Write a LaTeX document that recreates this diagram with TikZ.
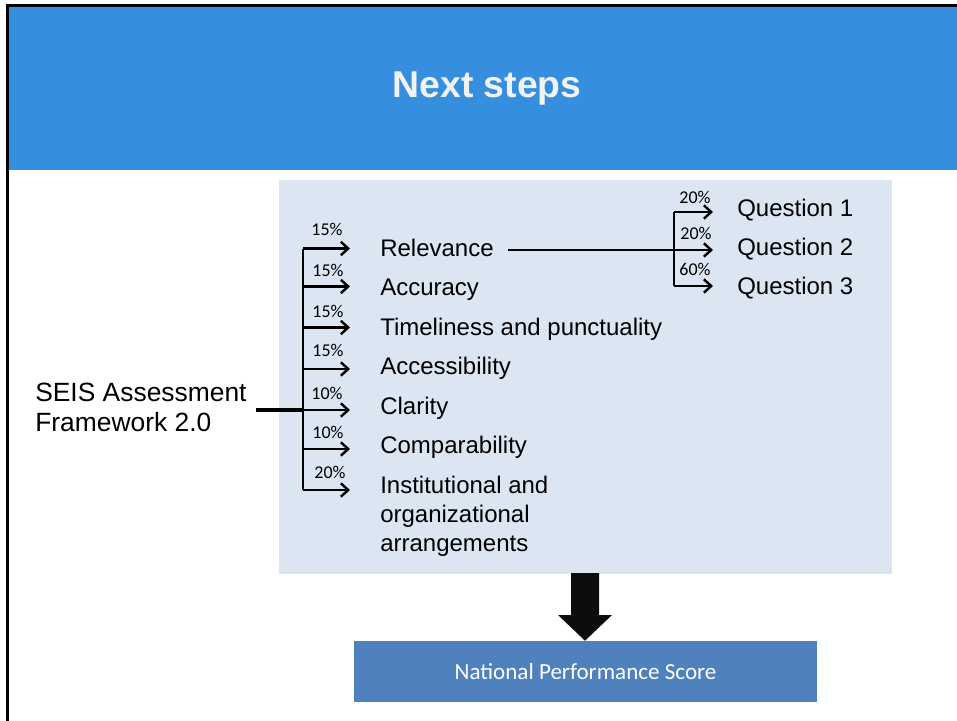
\documentclass[tikz,border=0pt]{standalone}
\usepackage{fontspec}
\setmainfont{Liberation Sans}
\newfontfamily\calib{Carlito}
\usetikzlibrary{arrows.meta}
\definecolor{bandblue}{HTML}{368EDE}
\definecolor{panel}{HTML}{DCE6F2}
\definecolor{scorebox}{HTML}{4F81BD}
\begin{document}
\begin{tikzpicture}[x=0.75pt,y=-0.75pt,
  item/.style={anchor=base west,inner sep=0pt,font=\fontsize{18}{22}\selectfont},
  pct/.style={inner sep=0pt,font=\calib\fontsize{13.5}{15}\selectfont},
  conn/.style={line width=1.9pt,-{Straight Barb[length=5.5pt,width=10pt,line width=1.8pt]}},
  spine/.style={line width=1.9pt}]
\useasboundingbox (0,0) rectangle (957,721);
\fill[white] (0,0) rectangle (957,721);
% frame and title band
\fill[bandblue] (9,7) rectangle (957,170);
\draw[line width=2.4pt] (7.5,721) -- (7.5,5.5) -- (957,5.5);
\node[text=white!95!black,font=\bfseries\fontsize{28}{30}\selectfont] (title) at (487,88.5) {Next steps};
% panel
\fill[panel] (279,180) rectangle (892,574);
% left label (base = last line)
\node[anchor=base west,inner sep=0pt,align=left,font=\fontsize{19.8}{22.5}\selectfont] (seis) at (35,431) {SEIS Assessment\\Framework 2.0};
% items
\node[item] (rel) at (380,256) {Relevance};
\node[item] (acc) at (380,295.5) {Accuracy};
\node[item] (tim) at (380,335) {Timeliness and punctuality};
\node[item] (accs) at (380,374.5) {Accessibility};
\node[item] (cla) at (380,414) {Clarity};
\node[item] (com) at (380,453.5) {Comparability};
\node[item,align=left] (ins) at (380,551.7) {Institutional and\\organizational\\arrangements};
% spine
\coordinate (s1) at (303,248.5);
\coordinate (s2) at (303,286.5);
\coordinate (s3) at (303,327.5);
\coordinate (s4) at (303,369);
\coordinate (s5) at (303,410);
\coordinate (s6) at (303,449);
\coordinate (s7) at (303,490);
\coordinate (seisend) at (256,410);
\draw[spine] (s1) -- (s7);
\draw[line width=2.6pt] (seisend) -- (s5);
\draw[conn,shorten >=22.5pt] (s1) -- (s1 -| rel.west);
\draw[conn,shorten >=22.5pt] (s2) -- (s2 -| rel.west);
\draw[conn,shorten >=22.5pt] (s3) -- (s3 -| rel.west);
\draw[conn,shorten >=22.5pt] (s4) -- (s4 -| rel.west);
\draw[conn,shorten >=22.5pt] (s5) -- (s5 -| rel.west);
\draw[conn,shorten >=22.5pt] (s6) -- (s6 -| rel.west);
\draw[conn,shorten >=22.5pt] (s7) -- (s7 -| rel.west);
\node[pct] (p1) at (327,229) {15\%};
\node[pct] (p2) at (328,270) {15\%};
\node[pct] (p3) at (328,311) {15\%};
\node[pct] (p4) at (328,350) {15\%};
\node[pct] (p5) at (327,393) {10\%};
\node[pct] (p6) at (328,432) {10\%};
\node[pct] (p7) at (330,472) {20\%};
% questions
\node[item] (q1) at (737,216.5) {Question 1};
\node[item] (q2) at (737,255.5) {Question 2};
\node[item] (q3) at (737,294.5) {Question 3};
\coordinate (r0) at (508,250);
\coordinate (t1) at (674,212);
\coordinate (t2) at (674,250);
\coordinate (t3) at (674,286);
\draw[spine] (t1) -- (t3);
\draw[conn,shorten >=18pt] (r0) -- (t2 -| q2.west);
\draw[conn,shorten >=18pt] (t1) -- (t1 -| q1.west);
\draw[conn,shorten >=18pt] (t3) -- (t3 -| q3.west);
\node[pct] (u1) at (695,197) {20\%};
\node[pct] (u2) at (696,233) {20\%};
\node[pct] (u3) at (695,269) {60\%};
% score box
\node[fill=scorebox,minimum width=463*0.75pt,minimum height=61*0.75pt,inner sep=0pt,text=white,font=\calib\fontsize{17.3}{19}\selectfont] (score) at (585.5,671.5) {National Performance Score};
% big arrow
\fill[black!95] (571,573) -- (599,573) -- (599,615) -- (612,615) -- (score.north -| 585,0) -- (558,615) -- (571,615) -- cycle;
\end{tikzpicture}
\end{document}
